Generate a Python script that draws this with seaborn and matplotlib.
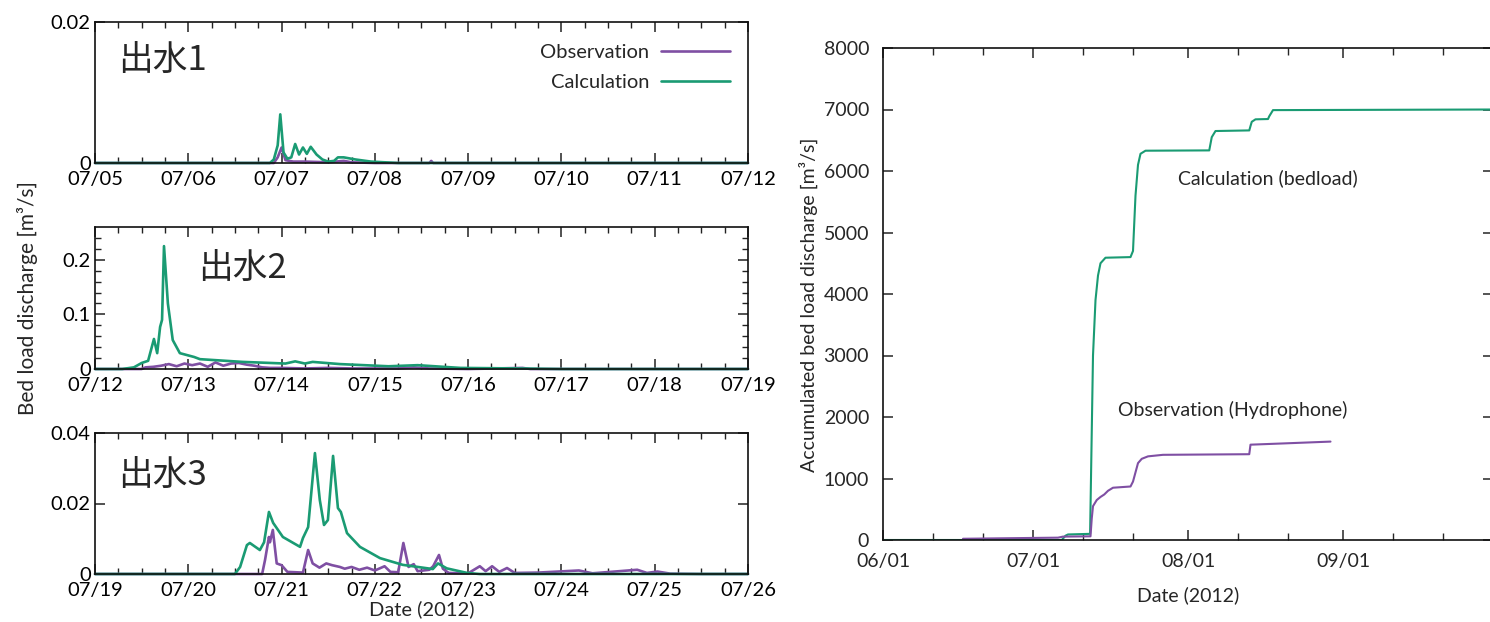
import numpy as np
import pandas as pd
import matplotlib
matplotlib.use("Agg")
import matplotlib.pyplot as plt
import matplotlib.dates as mdates
import seaborn as sns

# ---------------- data ----------------
ev1_calc_time = ["2012-07-05 00:00", "2012-07-06 21:00", "2012-07-06 22:00", "2012-07-06 23:00", "2012-07-06 23:40",
                 "2012-07-07 00:30", "2012-07-07 01:30", "2012-07-07 02:30", "2012-07-07 03:30", "2012-07-07 04:30",
                 "2012-07-07 05:30", "2012-07-07 06:30", "2012-07-07 07:30", "2012-07-07 09:00", "2012-07-07 10:30",
                 "2012-07-07 12:00", "2012-07-07 13:30", "2012-07-07 14:30", "2012-07-07 16:00", "2012-07-07 19:00",
                 "2012-07-07 23:00", "2012-07-08 06:00", "2012-07-12 00:00"]
ev1_calc_val = [0, 0, 0.0005, 0.0025, 0.0069, 0.0015, 0.0006, 0.0008, 0.0027, 0.0012, 0.0022, 0.0013, 0.0023,
                0.0012, 0.0005, 0.0002, 0.0003, 0.0008, 0.0008, 0.0005, 0.0002, 0.0, 0.0]
ev1_obs_time = ["2012-07-05 00:00", "2012-07-06 22:00", "2012-07-06 23:00", "2012-07-07 00:00", "2012-07-07 01:00",
                "2012-07-07 03:00", "2012-07-07 06:00", "2012-07-07 12:00", "2012-07-07 16:00", "2012-07-07 18:00",
                "2012-07-08 00:00", "2012-07-08 14:00", "2012-07-08 14:30", "2012-07-08 15:00", "2012-07-12 00:00"]
ev1_obs_val = [0, 0, 0.0008, 0.0022, 0.0004, 0.0002, 0.0002, 0.0001, 0.0003, 0.0001, 0, 0, 0.0003, 0, 0]

ev2_calc_time = ["2012-07-12 00:00", "2012-07-12 07:00", "2012-07-12 10:00", "2012-07-12 12:00", "2012-07-12 13:40",
                 "2012-07-12 15:10", "2012-07-12 16:00", "2012-07-12 16:45", "2012-07-12 17:15", "2012-07-12 17:45",
                 "2012-07-12 18:45", "2012-07-12 20:00", "2012-07-12 21:50", "2012-07-13 01:30", "2012-07-13 03:00",
                 "2012-07-13 14:00", "2012-07-14 01:00", "2012-07-14 03:30", "2012-07-14 06:00", "2012-07-14 08:00",
                 "2012-07-14 15:00", "2012-07-15 03:30", "2012-07-15 11:00", "2012-07-15 22:00", "2012-07-16 13:00",
                 "2012-07-17 00:00", "2012-07-19 00:00"]
ev2_calc_val = [0, 0.0, 0.003, 0.011, 0.015, 0.055, 0.029, 0.077, 0.09, 0.225, 0.12, 0.053, 0.029, 0.022, 0.018,
                0.013, 0.010, 0.014, 0.010, 0.013, 0.009, 0.005, 0.007, 0.002, 0.001, 0.0, 0.0]
ev2_obs_time = ["2012-07-12 00:00", "2012-07-12 12:00", "2012-07-12 13:00", "2012-07-12 15:00", "2012-07-12 17:00",
                "2012-07-12 19:00", "2012-07-12 21:00", "2012-07-12 23:00", "2012-07-13 01:00", "2012-07-13 03:00",
                "2012-07-13 05:00", "2012-07-13 07:00", "2012-07-13 09:00", "2012-07-13 11:00", "2012-07-13 13:00",
                "2012-07-13 15:00", "2012-07-13 17:00", "2012-07-13 19:00", "2012-07-13 21:00", "2012-07-14 00:00",
                "2012-07-14 06:00", "2012-07-14 12:00", "2012-07-14 18:00", "2012-07-15 06:00", "2012-07-15 10:00",
                "2012-07-15 14:00", "2012-07-16 00:00", "2012-07-16 14:00", "2012-07-16 16:00", "2012-07-19 00:00"]
ev2_obs_val = [0, 0, 0.003, 0.004, 0.006, 0.009, 0.005, 0.010, 0.007, 0.010, 0.004, 0.012, 0.006, 0.010, 0.011,
               0.008, 0.006, 0.003, 0.002, 0.002, 0.001, 0.002, 0.001, 0.001, 0.003, 0.001, 0, 0.002, 0, 0]

ev3_calc_time = ["2012-07-19 00:00", "2012-07-20 12:00", "2012-07-20 13:20", "2012-07-20 15:05", "2012-07-20 15:50",
                 "2012-07-20 18:25", "2012-07-20 19:30", "2012-07-20 20:45", "2012-07-20 21:50", "2012-07-21 00:20",
                 "2012-07-21 04:45", "2012-07-21 05:30", "2012-07-21 06:50", "2012-07-21 08:35", "2012-07-21 09:50",
                 "2012-07-21 10:55", "2012-07-21 11:55", "2012-07-21 13:15", "2012-07-21 14:30", "2012-07-21 15:15",
                 "2012-07-21 16:50", "2012-07-21 20:10", "2012-07-22 01:20", "2012-07-22 07:10", "2012-07-22 14:55",
                 "2012-07-22 16:15", "2012-07-22 18:30", "2012-07-22 23:45", "2012-07-23 03:00", "2012-07-26 00:00"]
ev3_calc_val = [0, 0, 0.002, 0.0082, 0.0088, 0.0068, 0.009, 0.0176, 0.0145, 0.0105, 0.0077, 0.0102, 0.0133,
                0.0343, 0.021, 0.0139, 0.0153, 0.0335, 0.0187, 0.0176, 0.0116, 0.0077, 0.0045, 0.0026, 0.0014,
                0.003, 0.0016, 0.0003, 0.0, 0.0]
ev3_obs_time = ["2012-07-19 00:00", "2012-07-20 19:00", "2012-07-20 19:45", "2012-07-20 20:45", "2012-07-20 21:00",
                "2012-07-20 21:45", "2012-07-20 22:45", "2012-07-21 00:00", "2012-07-21 01:30", "2012-07-21 05:30",
                "2012-07-21 06:50", "2012-07-21 08:00", "2012-07-21 09:45", "2012-07-21 11:30", "2012-07-21 13:00",
                "2012-07-21 15:00", "2012-07-21 16:15", "2012-07-21 18:00", "2012-07-21 20:00", "2012-07-21 22:00",
                "2012-07-22 00:00", "2012-07-22 02:30", "2012-07-22 04:00", "2012-07-22 06:00", "2012-07-22 07:20",
                "2012-07-22 08:40", "2012-07-22 10:00", "2012-07-22 11:00", "2012-07-22 14:00", "2012-07-22 15:00",
                "2012-07-22 16:30", "2012-07-22 17:30", "2012-07-22 19:00", "2012-07-23 00:00", "2012-07-23 03:00",
                "2012-07-23 04:30", "2012-07-23 06:10", "2012-07-23 08:00", "2012-07-23 10:00", "2012-07-23 12:00",
                "2012-07-23 18:00", "2012-07-24 04:30", "2012-07-24 08:00", "2012-07-24 19:30", "2012-07-24 22:00",
                "2012-07-25 00:40", "2012-07-25 04:00", "2012-07-25 12:00", "2012-07-26 00:00"]
ev3_obs_val = [0, 0, 0.004, 0.0105, 0.009, 0.0125, 0.003, 0.0025, 0.0006, 0.0004, 0.0068, 0.003, 0.0018, 0.003,
               0.0025, 0.002, 0.0015, 0.002, 0.0012, 0.0018, 0.001, 0.0022, 0.0006, 0.0005, 0.0088, 0.002, 0.0028,
               0.0008, 0.0012, 0.0022, 0.0054, 0.0015, 0.0003, 0.0002, 0.0022, 0.0008, 0.0022, 0.0006, 0.0017,
               0.0003, 0.0004, 0.0010, 0.0002, 0.0012, 0.0003, 0.0007, 0.0001, 0, 0]

cum_calc_time = ["2012-06-01 00:00", "2012-07-06 18:00", "2012-07-07 12:00", "2012-07-08 00:00", "2012-07-12 10:00",
                 "2012-07-13 00:00", "2012-07-13 12:00", "2012-07-14 00:00", "2012-07-14 12:00", "2012-07-15 12:00",
                 "2012-07-20 12:00", "2012-07-21 00:00", "2012-07-21 12:00", "2012-07-22 00:00", "2012-07-22 12:00",
                 "2012-07-23 12:00", "2012-08-05 06:00", "2012-08-05 18:00", "2012-08-06 12:00", "2012-08-13 06:00",
                 "2012-08-13 18:00", "2012-08-14 12:00", "2012-08-17 00:00", "2012-08-17 06:00", "2012-08-18 00:00",
                 "2012-10-01 00:00"]
cum_calc_val = [0, 0, 70, 90, 100, 3000, 3900, 4300, 4500, 4590, 4600, 4700, 5600, 6100, 6280, 6330, 6335, 6550,
                6650, 6660, 6800, 6840, 6845, 6890, 6990, 7000]
cum_obs_time = ["2012-06-17 00:00", "2012-06-25 00:00", "2012-07-06 00:00", "2012-07-07 00:00", "2012-07-12 12:00",
                "2012-07-12 18:00", "2012-07-13 00:00", "2012-07-13 18:00", "2012-07-14 12:00", "2012-07-15 06:00",
                "2012-07-16 00:00", "2012-07-17 00:00", "2012-07-20 12:00", "2012-07-21 00:00", "2012-07-21 12:00",
                "2012-07-22 00:00", "2012-07-22 18:00", "2012-07-24 00:00", "2012-07-27 00:00", "2012-08-13 06:00",
                "2012-08-13 12:00", "2012-08-20 00:00", "2012-08-29 12:00"]
cum_obs_val = [20, 28, 38, 55, 60, 350, 550, 650, 700, 740, 800, 850, 870, 950, 1100, 1250, 1320, 1360, 1385,
               1395, 1550, 1570, 1600]

event_labels = ["出水1", "出水2", "出水3"]
event_ranges = [("2012-07-05", "2012-07-12"), ("2012-07-12", "2012-07-19"), ("2012-07-19", "2012-07-26")]
event_ylims = [0.02, 0.26, 0.04]
event_yticks = [[0, 0.02], [0, 0.1, 0.2], [0, 0.02, 0.04]]
event_yticklabels = [["0", "0.02"], ["0", "0.1", "0.2"], ["0", "0.02", "0.04"]]


def to_dt(values):
    return pd.to_datetime(values, format="mixed")


# ---------------- style ----------------
sns.set_theme(style="ticks")
plt.rcParams["font.family"] = ["Lato", "Noto Sans CJK JP", "DejaVu Sans"]
plt.rcParams["axes.linewidth"] = 1.2
plt.rcParams["axes.edgecolor"] = "#111111"

OBS = "#7f4fa3"
CALC = "#1a9b73"
W, H = 1490, 622

fig = plt.figure(figsize=(W / 100, H / 100), dpi=100)


def frac(x0, y0, x1, y1):
    return [x0 / W, 1 - y1 / H, (x1 - x0) / W, (y1 - y0) / H]


boxes = [frac(95, 22, 748, 163), frac(95, 227, 748, 369), frac(95, 433, 748, 574)]
series = [(ev1_obs_time, ev1_obs_val, ev1_calc_time, ev1_calc_val),
          (ev2_obs_time, ev2_obs_val, ev2_calc_time, ev2_calc_val),
          (ev3_obs_time, ev3_obs_val, ev3_calc_time, ev3_calc_val)]
label_pos = [(0.035, 0.73), (0.158, 0.71), (0.035, 0.70)]

for i in range(3):
    ax = fig.add_axes(boxes[i])
    ot, ov, ct, cv = series[i]
    sns.lineplot(x=to_dt(ot), y=ov, ax=ax, color=OBS, lw=1.9, label="Observation", estimator=None)
    sns.lineplot(x=to_dt(ct), y=cv, ax=ax, color=CALC, lw=1.9, label="Calculation", estimator=None)
    for ln in ax.lines:
        ln.set_clip_on(False)
    ax.set_xlim(pd.Timestamp(event_ranges[i][0]), pd.Timestamp(event_ranges[i][1]))
    ax.set_ylim(0, event_ylims[i])
    ax.set_yticks(event_yticks[i])
    ax.set_yticklabels(event_yticklabels[i])
    if i == 1:
        ax.set_yticks(np.arange(0, 0.26, 0.02), minor=True)
    ax.xaxis.set_major_locator(mdates.DayLocator())
    ax.xaxis.set_minor_locator(mdates.HourLocator(byhour=[6, 12, 18]))
    ax.xaxis.set_major_formatter(mdates.DateFormatter("%m/%d"))
    ax.tick_params(which="both", direction="in", top=True, right=True, labelsize=14.5, colors="#222222",
                   labelcolor="black")
    ax.tick_params(which="major", length=7, width=1.1)
    ax.tick_params(which="minor", length=4, width=1.0)
    ax.tick_params(axis="x", pad=6)
    ax.tick_params(axis="y", pad=3)
    ax.set_xlabel("")
    ax.set_ylabel("")
    ax.text(label_pos[i][0], label_pos[i][1], event_labels[i], transform=ax.transAxes, fontsize=25,
            family=["Noto Sans CJK JP"], va="center", ha="left")
    if i == 0:
        ax.legend(loc="upper right", bbox_to_anchor=(1.0, 0.97), frameon=False, markerfirst=False,
                  fontsize=14.5, handlelength=3.4, labelspacing=0.6, handletextpad=0.6)
    else:
        ax.get_legend().remove()
    if i == 2:
        ax.set_xlabel("Date (2012)", fontsize=14.5, labelpad=1)

fig.text(28 / W, 1 - 298 / H, "Bed load discharge [m³/s]", rotation=90, va="center", ha="center", fontsize=15)

# ---------------- right panel ----------------
axr = fig.add_axes(frac(883, 48, 1493, 540))
sns.lineplot(x=to_dt(cum_calc_time), y=cum_calc_val, ax=axr, color=CALC, lw=1.5, estimator=None)
sns.lineplot(x=to_dt(cum_obs_time), y=cum_obs_val, ax=axr, color=OBS, lw=1.5, estimator=None)
axr.set_xlim(pd.Timestamp("2012-06-01"), pd.Timestamp("2012-10-01"))
axr.set_ylim(0, 8000)
axr.set_yticks(np.arange(0, 8001, 1000))
axr.xaxis.set_major_locator(mdates.MonthLocator(bymonth=[6, 7, 8, 9]))
axr.xaxis.set_minor_locator(mdates.DayLocator(bymonthday=[11, 21]))
axr.xaxis.set_major_formatter(mdates.DateFormatter("%m/%d"))
axr.tick_params(which="both", direction="in", top=True, right=True, labelsize=14)
axr.tick_params(which="major", length=7, width=1.1)
axr.tick_params(which="minor", length=5, width=1.0)
axr.tick_params(axis="x", pad=9)
axr.tick_params(axis="y", pad=10)
axr.set_xlabel("Date (2012)", fontsize=14, labelpad=12)
axr.set_ylabel("")
fig.text(808 / W, 1 - 305 / H, "Accumulated bed load discharge [m³/s]", rotation=90, va="center", ha="center",
         fontsize=14)
axr.text(pd.Timestamp("2012-07-30"), 5890, "Calculation (bedload)", fontsize=14, va="center", ha="left")
axr.text(pd.Timestamp("2012-07-18"), 2110, "Observation (Hydrophone)", fontsize=14, va="center", ha="left")

fig.savefig("out.png", dpi=100)
